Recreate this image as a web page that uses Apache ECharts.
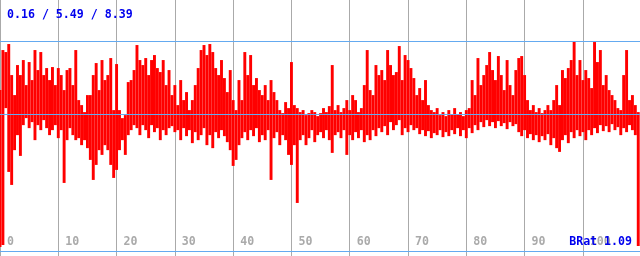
<!DOCTYPE html>
<html>
<head>
<meta charset="utf-8">
<script src="https://cdn.jsdelivr.net/npm/echarts@6/dist/echarts.min.js"></script>
<style>
html, body { margin: 0; padding: 0; background: #fff; }
#chart { width: 640px; height: 256px; }
</style>
</head>
<body>
<div id="chart"></div>
<script>
// min / avg / max shown in the header and as the blue reference lines
var stats = [0.16, 5.49, 8.39];
var ratioName = 'BRat';
var ratioValue = 1.09;
var step = 0.5;   // x distance between two columns

// upper and lower envelope of the signal per column
var hi = [
  6.43,8.03,7.95,8.27,7.03,6.23,7.43,7.03,7.63,6.63,
  7.55,6.83,8.03,7.23,7.95,7.03,7.31,6.83,7.35,6.63,
  7.31,7.03,6.43,7.23,7.31,6.63,8.03,6.03,5.83,5.55,
  6.23,6.23,7.03,7.51,6.43,7.63,6.83,7.03,7.71,5.63,
  7.47,5.63,5.31,5.43,6.75,6.83,7.23,8.23,7.63,7.43,
  7.71,7.03,7.63,7.83,7.31,7.15,7.63,6.63,7.23,6.23,
  6.63,5.83,6.83,6.03,6.35,5.63,6.03,6.63,7.31,8.03,
  8.23,7.83,8.27,7.95,7.31,7.03,7.63,6.91,6.35,7.23,
  6.03,5.63,6.83,6.03,7.95,7.03,7.83,6.63,6.91,6.43,
  6.23,6.63,6.03,6.83,6.35,6.03,5.63,5.51,5.95,5.71,
  7.55,5.83,5.71,5.55,5.63,5.43,5.51,5.63,5.55,5.39,
  5.51,5.71,5.55,5.79,7.43,5.63,5.83,5.55,5.71,6.03,
  5.63,6.23,6.03,5.55,5.71,6.63,8.03,6.43,6.23,7.43,
  7.03,7.23,6.83,8.03,7.43,7.03,7.15,8.19,6.83,7.83,
  7.63,7.31,6.91,6.23,6.51,6.03,6.83,5.83,5.63,5.55,
  5.71,5.43,5.55,5.39,5.63,5.47,5.71,5.47,5.55,5.39,
  5.63,5.71,6.83,6.23,7.71,6.63,7.03,7.43,7.95,7.23,
  6.83,7.79,7.03,6.43,7.63,6.63,6.23,7.23,7.71,7.79,
  7.03,6.03,5.63,5.83,5.55,5.71,5.51,5.63,5.83,5.63,
  6.03,6.63,5.83,7.23,6.91,7.31,7.63,8.39,7.03,7.63,
  6.83,7.23,6.91,6.51,8.35,7.55,8.03,6.63,7.03,6.43,
  6.23,6.03,5.71,5.63,7.03,8.03,6.03,6.23,5.83,5.55
];
var lo = [
  0.16,0.24,5.71,3.16,2.64,4.03,4.63,3.80,5.03,5.31,
  4.91,5.15,4.43,5.03,4.83,5.23,4.91,4.63,4.83,5.03,
  4.51,4.83,2.72,4.43,4.91,4.63,4.43,4.51,4.23,4.43,
  4.11,3.64,2.84,3.44,4.03,3.84,4.23,4.03,3.44,2.92,
  3.24,4.03,4.43,3.84,4.63,4.83,5.03,4.91,4.63,5.03,
  4.83,4.51,5.03,4.75,4.91,4.43,4.83,4.63,4.91,4.99,
  4.75,4.83,4.43,4.91,4.59,4.83,4.31,4.75,4.43,4.63,
  4.91,4.23,4.63,4.11,4.75,4.51,4.83,4.59,4.35,4.03,
  3.40,3.64,4.23,4.51,4.75,4.43,4.83,4.59,4.91,4.35,
  4.63,4.43,4.83,2.84,4.51,4.75,4.23,4.63,4.43,3.84,
  3.44,4.23,1.92,4.43,4.63,4.23,4.51,4.83,4.35,4.63,
  4.75,4.51,4.83,4.43,3.92,4.63,4.75,4.51,4.83,3.84,
  4.63,4.43,4.75,4.51,4.83,4.35,4.63,4.43,4.83,4.59,
  4.91,4.75,4.99,4.63,5.15,4.83,5.03,5.23,4.63,4.91,
  4.75,5.03,4.83,4.91,4.67,4.83,4.59,4.79,4.51,4.71,
  4.63,4.83,4.55,4.75,4.59,4.83,4.67,4.91,4.59,4.83,
  4.51,4.91,4.71,5.03,4.83,5.15,4.95,5.23,4.99,5.15,
  4.91,5.19,4.99,5.11,4.87,5.15,4.99,5.07,4.75,4.59,
  4.83,4.51,4.67,4.43,4.63,4.35,4.59,4.43,4.67,4.23,
  4.51,4.11,3.96,4.43,4.63,4.31,4.75,4.51,4.83,4.59,
  4.75,4.43,4.83,4.63,4.91,4.71,5.03,4.79,4.99,4.75,
  5.07,4.83,4.95,4.63,4.91,4.75,5.03,4.83,4.63,0.20
];

var columns = hi.map(function (h, i) { return [i * step, h, lo[i]]; });
var refLines = [[stats[1]], [stats[2]]];

var mono = 'DejaVu Sans Mono';
var blueText = { fontFamily: mono, fontWeight: 'bold', fontSize: 11.6, color: '#0000ee' };

var myChart = echarts.init(document.getElementById('chart'));
myChart.setOption({
  animation: false,
  backgroundColor: '#fff',
  title: [{
    text: stats.map(function (v) { return v.toFixed(2); }).join(' / '),
    left: 7,
    top: 9,
    padding: 0,
    textStyle: blueText
  }, {
    text: ratioName + ' ' + ratioValue.toFixed(2),
    right: 8,
    bottom: 8,
    padding: 0,
    textStyle: blueText
  }],
  grid: { left: 0, right: 0, top: 0, bottom: 0, containLabel: false },
  xAxis: {
    type: 'value',
    min: 0,
    max: 109.8,
    interval: 10,
    axisLine: { onZero: true, lineStyle: { color: '#64aaf0', width: 1 } },
    axisTick: { show: false },
    axisLabel: {
      margin: -14,
      align: 'left',
      verticalAlign: 'middle',
      padding: [0, 0, 0, 7],
      fontFamily: mono,
      fontWeight: 'bold',
      fontSize: 11.6,
      color: '#aaaaaa',
      showMaxLabel: false,
      hideOverlap: false
    },
    splitLine: { show: true, lineStyle: { color: '#aaaaaa', width: 1 } }
  },
  yAxis: {
    type: 'value',
    min: -0.2,
    max: 10.03,
    show: false,
    splitLine: { show: false }
  },
  series: [{
    type: 'custom',
    data: columns,
    encode: { x: 0, y: [1, 2] },
    z: 2,
    renderItem: function (params, api) {
      var x = api.value(0);
      var top = api.coord([x, api.value(1)]);
      var bot = api.coord([x, api.value(2)]);
      var w = api.size([step, 0])[0];
      return {
        type: 'rect',
        shape: { x: top[0] - w / 2, y: top[1], width: w, height: bot[1] - top[1] },
        style: { fill: '#ff0000' }
      };
    }
  }, {
    // average and maximum drawn across the whole plot, above the signal
    type: 'custom',
    data: refLines,
    encode: { y: 0 },
    z: 3,
    silent: true,
    renderItem: function (params, api) {
      var cs = params.coordSys;
      var y = Math.round(api.coord([0, api.value(0)])[1]) + 0.5;
      return {
        type: 'line',
        shape: { x1: cs.x, y1: y, x2: cs.x + cs.width, y2: y },
        style: { stroke: '#64aaf0', lineWidth: 1 }
      };
    }
  }]
});
</script>
</body>
</html>
